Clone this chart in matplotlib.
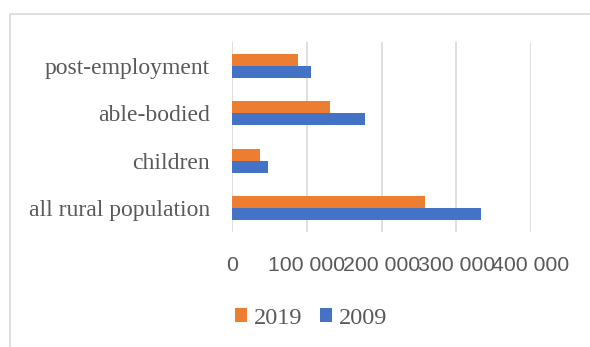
import numpy as np
import matplotlib
matplotlib.use("Agg")
import matplotlib.pyplot as plt
from matplotlib.patches import Rectangle

categories = ["all rural population", "children", "able-bodied", "post-employment"]
values_2009 = [333000, 47600, 178000, 105700]
values_2019 = [258700, 37800, 131000, 88000]
xticks = [0, 100000, 200000, 300000, 400000]
xtick_labels = ["0", "100 000", "200 000", "300 000", "400 000"]

BLUE = "#4472C4"
ORANGE = "#ED7D31"
TEXT = "#595959"
GRID = "#D9D9D9"

fig = plt.figure(figsize=(5.9, 3.47), dpi=100)
ax = fig.add_axes([232 / 590, 1 - 232 / 347, (531 - 232) / 590, (232 - 42) / 347])

# chart border (cropped on right and bottom)
fig.patches.append(Rectangle((9.5 / 590, -0.1), 1.2, 1 - 13.5 / 347 + 0.1,
                             transform=fig.transFigure, fill=False,
                             edgecolor=GRID, lw=1.2))

y = np.arange(len(categories))
h = 0.255
ax.barh(y - h / 2, values_2009, height=h, color=BLUE, label="2009", zorder=3)
ax.barh(y + h / 2, values_2019, height=h, color=ORANGE, label="2019", zorder=3)

ax.set_xlim(0, 400000)
ax.set_ylim(-0.5, 3.5)
ax.set_xticks(xticks)
ax.set_xticklabels(xtick_labels, family="Liberation Sans", fontsize=15.3, color=TEXT)
ax.set_yticks(y)
ax.set_yticklabels(categories, family="Liberation Serif", fontsize=17, color=TEXT)
ax.tick_params(length=0)
ax.tick_params(axis="x", pad=17)
ax.tick_params(axis="y", pad=16)
ax.grid(True, axis="x", color=GRID, lw=1.2, zorder=0)
for s in ax.spines.values():
    s.set_visible(False)

handles, labels = ax.get_legend_handles_labels()
leg = fig.legend(handles[::-1], labels[::-1], loc="center", bbox_to_anchor=(311 / 590, 1 - 318 / 347),
                 ncol=2, frameon=False, handlelength=0.5, handleheight=0.5,
                 handletextpad=0.25, columnspacing=0.75,
                 prop={"family": "Liberation Serif", "size": 17.5})
for t in leg.get_texts():
    t.set_color(TEXT)

fig.savefig("out.png", dpi=100, facecolor="white")
